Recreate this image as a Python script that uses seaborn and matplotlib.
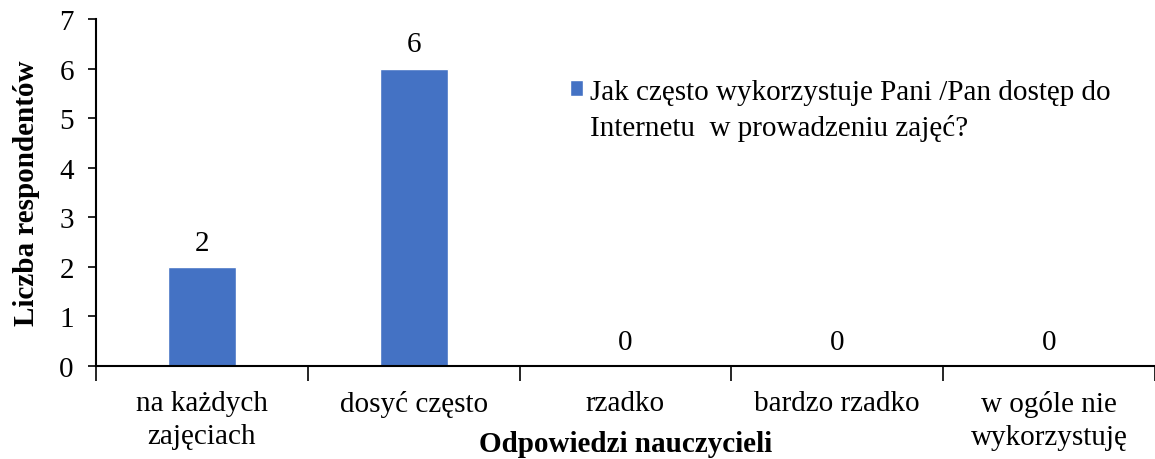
import matplotlib
matplotlib.use("Agg")
from matplotlib import pyplot as plt
from matplotlib.patches import Patch
from matplotlib.ticker import FixedLocator
import seaborn as sns
import pandas as pd

# dane
categories = ["na każdych\nzajęciach", "dosyć często", "rzadko", "bardzo rzadko", "w ogóle nie\nwykorzystuję"]
values = [2, 6, 0, 0, 0]
series_name = "Jak często wykorzystuje Pani /Pan dostęp do\nInternetu  w prowadzeniu zajęć?"

sns.set_theme(style="white")
plt.rcParams['font.family'] = ['Liberation Serif', 'DejaVu Serif']
plt.rcParams['text.color'] = 'black'
plt.rcParams['axes.labelcolor'] = 'black'

FS = 21

df = pd.DataFrame({"odp": categories, "liczba": values})

fig = plt.figure(figsize=(11.55, 4.6), dpi=100)
ax = fig.add_axes([0.0831, 0.2022, 0.9169, 0.7543])

sns.barplot(data=df, x="odp", y="liczba", color="#4472C4", width=0.32,
            saturation=1, ax=ax)

ax.set_ylim(0, 7)
ax.set_xlim(-0.5, 4.5)
ax.set_yticks(range(0, 8))
ax.tick_params(axis="y", labelsize=FS, length=6, width=1.2, direction="out",
               left=True, colors="black", pad=10)
ax.tick_params(axis="x", which="major", labelsize=FS, length=0, pad=17, colors="black")
ax.xaxis.set_minor_locator(FixedLocator([-0.5, 0.5, 1.5, 2.5, 3.5, 4.5]))
ax.tick_params(axis="x", which="minor", length=11, width=1.2, direction="out",
               bottom=True, color="black")
for t in ax.get_xticklabels():
    t.set_linespacing(1.35)

for s in ["top", "right"]:
    ax.spines[s].set_visible(False)
for s in ["left", "bottom"]:
    ax.spines[s].set_color("black")
    ax.spines[s].set_linewidth(1.5)

ax.bar_label(ax.containers[0], fmt="%d", fontsize=FS, padding=8)

ax.set_xlabel("Odpowiedzi nauczycieli", fontsize=FS, fontweight="bold", labelpad=-14)
ax.set_ylabel("Liczba respondentów", fontsize=FS, fontweight="bold", labelpad=14)

leg = ax.legend(handles=[Patch(facecolor="#4472C4", label=series_name)],
                loc="upper left", bbox_to_anchor=(570 / 1155, 1 - 80 / 460),
                bbox_transform=fig.transFigure, frameon=False, fontsize=FS,
                handlelength=0.45, handleheight=0.45, handletextpad=0.25,
                borderaxespad=0, borderpad=0)
for t in leg.get_texts():
    t.set_linespacing(1.45)
# kwadracik przy pierwszej linii
h = leg.legend_handles[0]
h.set_y(h.get_y() + 15.5)

plt.savefig("out.png", dpi=100)
